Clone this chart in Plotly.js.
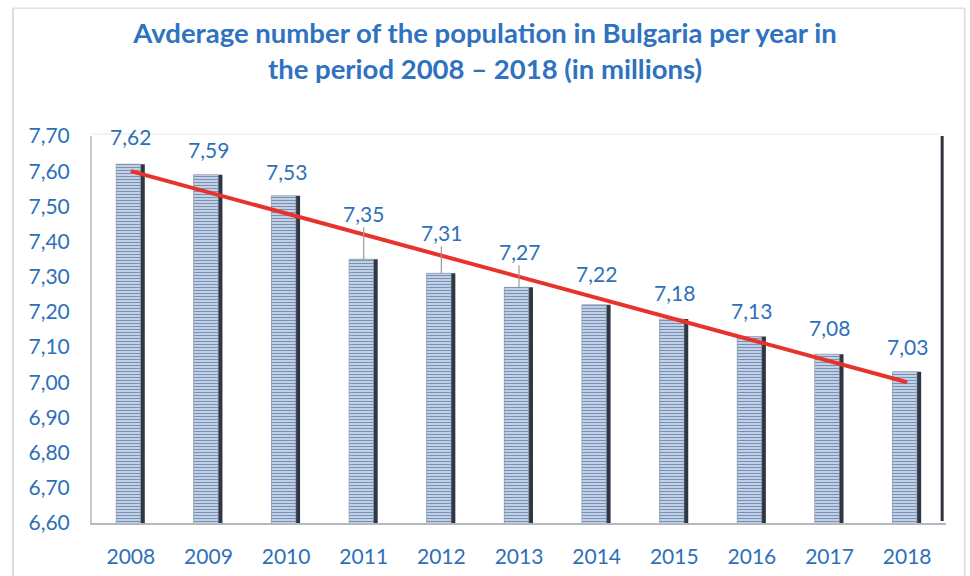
<!DOCTYPE html>
<html>
<head>
<meta charset="utf-8">
<script src="https://cdn.plot.ly/plotly-3.0.1.min.js"></script>
<style>html,body{margin:0;padding:0;background:#fff;}#chart{width:970px;height:576px;}</style>
</head>
<body>
<div id="chart"></div>
<script>
// Data
const years = ['2008','2009','2010','2011','2012','2013','2014','2015','2016','2017','2018'];
const population = [7.62, 7.59, 7.53, 7.35, 7.31, 7.27, 7.22, 7.18, 7.13, 7.08, 7.03];
const trendYears = ['2008', '2018'];
const trendValues = [7.60, 7.00];
const yTickValues = [6.6, 6.7, 6.8, 6.9, 7.0, 7.1, 7.2, 7.3, 7.4, 7.5, 7.6, 7.7];

// label layout (pixel offsets above bar tops) and leader-line flags
const labelOffsets = [28, 25, 24, 46, 41, 36, 31, 26, 26, 27, 25];
const leaderLines = [false, false, false, true, true, true, false, false, false, false, false];

const blue = '#2e6fba';
const fontFam = 'Lato, Carlito, sans-serif';
const fmt = v => v.toFixed(2).replace('.', ',');

const shadeBar = {
  type: 'bar', x: years, y: population, width: 0.37, offset: -0.19,
  marker: {color: '#2f3744', line: {width: 0}},
  hoverinfo: 'skip', showlegend: false
};
const mainBar = {
  type: 'bar', x: years, y: population, width: 0.315, offset: -0.19,
  marker: {
    color: '#c3d3e8',
    pattern: {shape: '-', fgcolor: '#7891ba', bgcolor: '#dbe5f2', size: 3, solidity: 0.5},
    line: {width: 0.6, color: '#9aa6b6'}
  },
  showlegend: false
};
const trend = {
  type: 'scatter', mode: 'lines', x: trendYears, y: trendValues,
  line: {color: '#e8332c', width: 4}, showlegend: false, hoverinfo: 'skip'
};

const annotations = years.map((yr, i) => ({
  x: i, y: population[i], xref: 'x', yref: 'y',
  text: fmt(population[i]),
  showarrow: true, arrowhead: 0, arrowwidth: 1.2,
  arrowcolor: leaderLines[i] ? '#9a9a9a' : 'rgba(0,0,0,0)',
  ax: 0, ay: -labelOffsets[i], standoff: 0, startstandoff: 0,
  font: {family: fontFam, size: 21, color: blue}
}));

const layout = {
  width: 970, height: 576,
  margin: {l: 92, r: 24, t: 136, b: 53},
  paper_bgcolor: '#ffffff', plot_bgcolor: '#ffffff',
  separators: ', ',
  barmode: 'overlay',
  title: {
    text: 'Avderage number of the population in Bulgaria per year in<br>the period 2008 – 2018 (in millions)',
    font: {family: fontFam, size: 27.5, color: '#2e72c0', weight: 'bold'},
    x: 0.5, xanchor: 'center', y: 0.925, yanchor: 'top'
  },
  xaxis: {
    type: 'category', categoryorder: 'array', categoryarray: years, range: [-0.5, 10.5],
    showline: true, linecolor: '#b5b8bc', linewidth: 2,
    showgrid: false, zeroline: false, ticks: '', ticklabelstandoff: 14,
    tickfont: {family: fontFam, size: 21, color: blue},
    fixedrange: true
  },
  yaxis: {
    range: [6.6, 7.7], tickvals: yTickValues, tickformat: '.2f',
    showline: true, linecolor: '#c8cacd', linewidth: 2,
    showgrid: false, zeroline: false, ticks: '', ticklabelstandoff: 16,
    tickfont: {family: fontFam, size: 21, color: blue},
    fixedrange: true
  },
  shapes: [
    {type: 'line', xref: 'paper', yref: 'paper', x0: 0.9955, x1: 0.9955, y0: 0.005, y1: 1.0,
     line: {color: '#2e3440', width: 3}},
    {type: 'line', xref: 'paper', yref: 'paper', x0: 0.0, x1: 0.995, y0: 1.005, y1: 1.005,
     line: {color: '#e6e8eb', width: 1}},
    {type: 'line', xref: 'paper', yref: 'paper', x0: -0.0925, x1: -0.0925, y0: -0.15, y1: 1.33,
     line: {color: '#cfcfcf', width: 1.5}},
    {type: 'line', xref: 'paper', yref: 'paper', x0: -0.0925, x1: 1.022, y0: 1.33, y1: 1.33,
     line: {color: '#e2e2e2', width: 1.5}},
    {type: 'line', xref: 'paper', yref: 'paper', x0: 1.022, x1: 1.022, y0: -0.15, y1: 1.33,
     line: {color: '#dadada', width: 1.5}}
  ],
  annotations: annotations
};

Plotly.newPlot('chart', [shadeBar, mainBar, trend], layout, {staticPlot: true});
</script>
</body>
</html>
